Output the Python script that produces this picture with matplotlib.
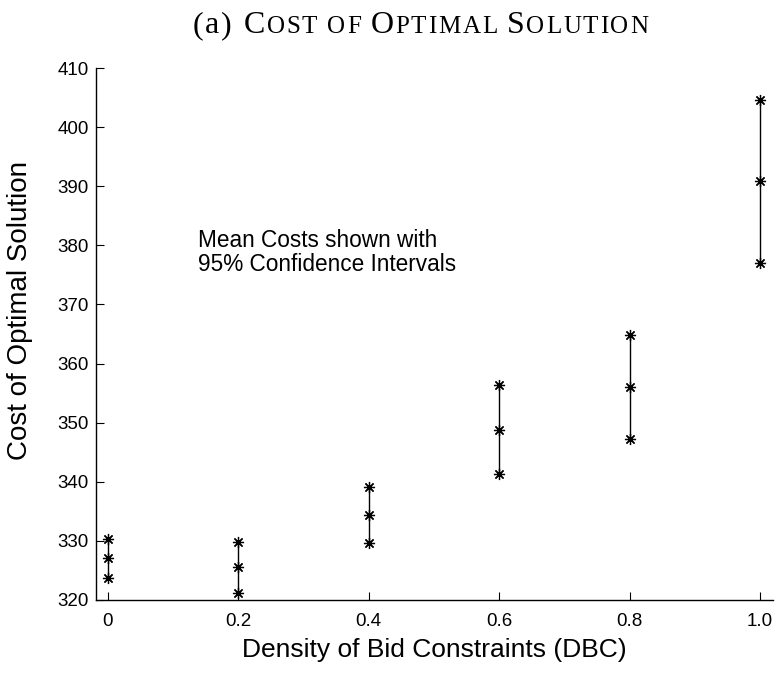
import matplotlib
matplotlib.use("Agg")
import matplotlib.pyplot as plt

dbc = [0.0, 0.2, 0.4, 0.6, 0.8, 1.0]
mean_cost = [327.1, 325.5, 334.4, 348.8, 356.1, 390.8]
upper_ci = [330.4, 329.8, 339.1, 356.3, 364.8, 404.6]
lower_ci = [323.7, 321.1, 329.6, 341.3, 347.3, 377.0]
xticks = [0, 0.2, 0.4, 0.6, 0.8, 1.0]
xticklabels = ["0", "0.2", "0.4", "0.6", "0.8", "1.0"]
yticks = [320, 330, 340, 350, 360, 370, 380, 390, 400, 410]

plt.rcParams['font.family'] = ['Liberation Sans', 'DejaVu Sans']

fig = plt.figure(figsize=(7.78, 6.73), dpi=100)
W, H = 778, 673
ax = fig.add_axes([96 / W, 1 - 600 / H, (773 - 96) / W, (600 - 68) / H])

for x, lo, m, hi in zip(dbc, lower_ci, mean_cost, upper_ci):
    ax.plot([x, x], [lo, hi], color='black', lw=1.0)
    ax.plot([x, x, x], [lo, m, hi], linestyle='none', marker=(8, 2, 0), color='black',
            markersize=8, markeredgewidth=0.9)

ax.set_xlim(-0.018, 1.02)
ax.set_ylim(320, 410)
ax.set_xticks(xticks)
ax.set_xticklabels(xticklabels)
ax.set_yticks(yticks)
ax.tick_params(direction='in', length=6, width=0.8, labelsize=13.5, colors='black')
ax.tick_params(axis='x', pad=9)
ax.tick_params(axis='y', pad=5)
for s in ['top', 'right']:
    ax.spines[s].set_visible(False)
for s in ['left', 'bottom']:
    ax.spines[s].set_linewidth(1.0)

ax.set_xlabel("Density of Bid Constraints (DBC)", fontsize=19, labelpad=6)
ax.set_ylabel("Cost of Optimal Solution", fontsize=20)
ax.yaxis.set_label_coords((33 - 96) / 677, 0.545)

ax.text(0.138, 378.8, "Mean Costs shown with\n95% Confidence Intervals", fontsize=16.3,
        ha='left', va='center', linespacing=1.1)

# Small-caps title placed character by character with tracking
BIG, SMALL = 23, 18
title_pieces = [("(a) ", BIG), ("C", BIG), ("OST OF ", SMALL), ("O", BIG),
                ("PTIMAL ", SMALL), ("S", BIG), ("OLUTION", SMALL)]
fig.canvas.draw()
renderer = fig.canvas.get_renderer()


def text_width(s, fs):
    t = fig.text(0, 0, s, fontsize=fs, family='Liberation Serif')
    w = t.get_window_extent(renderer=renderer).width
    t.remove()
    return w


chars = []
for s, fs in title_pieces:
    for c in s:
        if c == ' ':
            w = text_width('x x', fs) - text_width('xx', fs)
        else:
            w = text_width(c, fs)
        chars.append((c, fs, w))

# tracking so that the final "S" starts where the reference shows it
idx_S = sum(len(s) for s, _ in title_pieces[:5])
natural_prefix = sum(w for _, _, w in chars[:idx_S])
tracking = (507 - 193 - natural_prefix) / idx_S
x0 = 193
for c, fs, w in chars:
    if c != ' ':
        fig.text(x0 / W, 1 - 33 / H, c, fontsize=fs, family='Liberation Serif',
                 ha='left', va='baseline')
    x0 += w + tracking

fig.savefig("out.png", dpi=100)
